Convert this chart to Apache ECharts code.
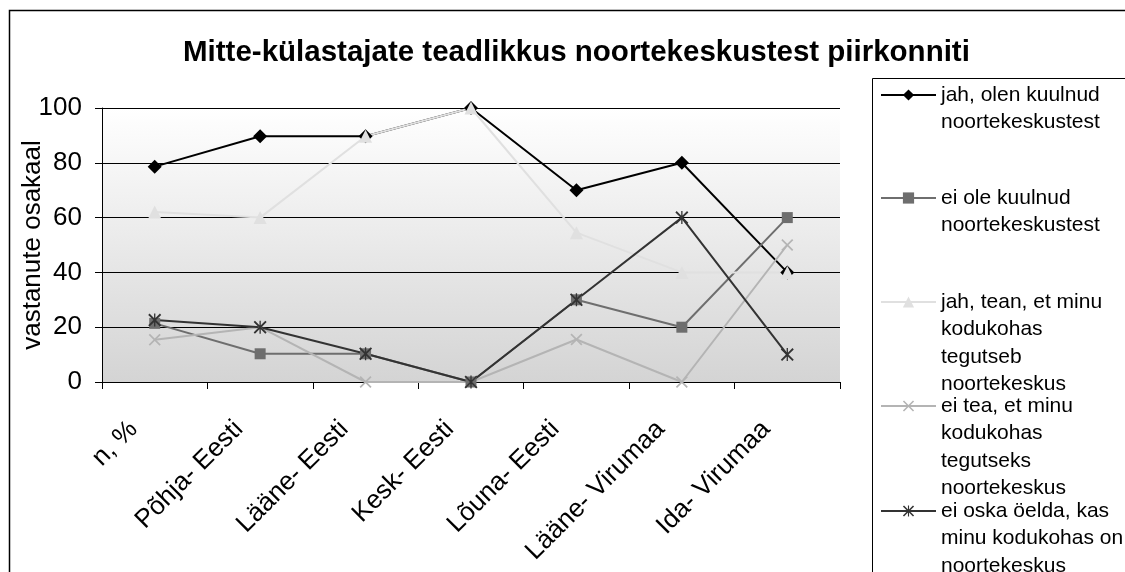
<!DOCTYPE html>
<html>
<head>
<meta charset="utf-8">
<script src="https://cdn.jsdelivr.net/npm/echarts@6/dist/echarts.min.js"></script>
<style>
  html, body { margin: 0; padding: 0; background: #fff; }
  #chart { width: 1125px; height: 572px; }
</style>
</head>
<body>
<div id="chart"></div>
<script>
// andmed
const categories = ['n, %', 'Põhja- Eesti', 'Lääne- Eesti', 'Kesk- Eesti', 'Lõuna- Eesti', 'Lääne- Virumaa', 'Ida- Virumaa'];
const heardYes = [78.6, 89.7, 89.7, 100, 70, 80, 40];
const heardNo = [21.4, 10.3, 10.3, 0, 30, 20, 60];
const knowYes = [62, 60, 89.7, 100, 54.5, 40, 40];
const knowNo = [15.4, 20, 0, 0, 15.5, 0, 50];
const cantSay = [22.6, 20, 10.3, 0, 30, 60, 10];
const yTicks = [0, 20, 40, 60, 80, 100];

const seriesNames = [
    'jah, olen kuulnud noortekeskustest',
    'ei ole kuulnud noortekeskustest',
    'jah, tean, et minu kodukohas tegutseb noortekeskus',
    'ei tea, et minu kodukohas tegutseks noortekeskus',
    'ei oska öelda, kas minu kodukohas on noortekeskus'
];
const legendLines = [
    ['jah, olen kuulnud', 'noortekeskustest'],
    ['ei ole kuulnud', 'noortekeskustest'],
    ['jah, tean, et minu', 'kodukohas', 'tegutseb', 'noortekeskus'],
    ['ei tea, et minu', 'kodukohas', 'tegutseks', 'noortekeskus'],
    ['ei oska öelda, kas', 'minu kodukohas on', 'noortekeskus']
];

const font = '"Liberation Sans", Arial, sans-serif';
const crossPath = 'path://M2,0L10,8L18,0L20,2L12,10L20,18L18,20L10,12L2,20L0,18L8,10L0,2Z';
const starPath = crossPath + 'M9,0L11,0L11,20L9,20Z';

const chart = echarts.init(document.getElementById('chart'));

function line(name, data, color, symbol, size) {
    return {
        name: name,
        type: 'line',
        data: data,
        symbol: symbol,
        symbolSize: size,
        showAllSymbol: true,
        lineStyle: { color: color, width: 2 },
        itemStyle: { color: color },
        emphasis: { disabled: true },
        animation: false
    }
}

// legend: üks komponent iga kirje kohta, marker esimese rea kõrgusel
const legendY = [95, 198, 302, 406, 511];
const lh = 27.5;
const legends = seriesNames.map(function (name, i) {
    const n = legendLines[i].length;
    return {
        data: [name],
        orient: 'vertical',
        left: 880,
        top: legendY[i] - (2 * n - 1) * lh / 2,
        padding: 0,
        itemWidth: 55,
        itemHeight: 14,
        selectedMode: false,
        formatter: function () {
            return '\n'.repeat(n - 1) + legendLines[i].join('\n')
        },
        textStyle: { fontSize: 21, lineHeight: lh, fontFamily: font, color: '#000' }
    }
});

const option = {
    backgroundColor: '#fff',
    animation: false,
    title: {
        text: 'Mitte-külastajate teadlikkus noortekeskustest piirkonniti',
        left: 178,
        top: 33,
        textStyle: { fontSize: 29.5, fontWeight: 'bold', fontFamily: font, color: '#000' }
    },
    graphic: [
        {
            type: 'rect', z: 0, silent: true,
            shape: { x: 9.5, y: 10.5, width: 1200, height: 700 },
            style: { fill: 'none', stroke: '#000', lineWidth: 1.5 }
        },
        {
            type: 'rect', z: 0, silent: true,
            shape: { x: 872.5, y: 78.5, width: 400, height: 700 },
            style: { fill: '#fff', stroke: '#000', lineWidth: 1 }
        }
    ],
    legend: legends,
    grid: {
        left: 102, right: 285, top: 108, bottom: 190,
        outerBoundsMode: 'none',
        containLabel: false,
        show: true,
        borderWidth: 0,
        backgroundColor: new echarts.graphic.LinearGradient(0, 0, 0, 1, [
            { offset: 0, color: '#ffffff' },
            { offset: 1, color: '#d4d4d4' }
        ])
    },
    xAxis: {
        type: 'category',
        data: categories,
        boundaryGap: true,
        axisLine: { lineStyle: { color: '#000', width: 1 } },
        axisTick: { show: true, length: 7, interval: 0, lineStyle: { color: '#000' } },
        axisLabel: {
            interval: 0, rotate: 45, margin: 22,
            padding: [0, 30, 0, 0],
            fontSize: 26, fontFamily: font, color: '#000'
        },
        splitLine: { show: false }
    },
    yAxis: {
        type: 'value',
        min: yTicks[0],
        max: yTicks[yTicks.length - 1],
        interval: 20,
        name: 'vastanute osakaal',
        nameLocation: 'middle',
        nameGap: 56,
        nameMoveOverlap: false,
        nameTextStyle: { fontSize: 26, fontFamily: font, color: '#000' },
        axisLine: { show: true, lineStyle: { color: '#000', width: 1 } },
        axisTick: { show: true, length: 7, lineStyle: { color: '#000' } },
        axisLabel: { fontSize: 26, fontFamily: font, color: '#000', margin: 20 },
        splitLine: { show: true, lineStyle: { color: '#000', width: 1 } }
    },
    series: [
        line(seriesNames[0], heardYes, '#000000', 'diamond', 14),
        line(seriesNames[1], heardNo, '#6e6e6e', 'rect', 11),
        line(seriesNames[2], knowYes, '#e0e0e0', 'triangle', 13),
        line(seriesNames[3], knowNo, '#b4b4b4', crossPath, 12),
        line(seriesNames[4], cantSay, '#333333', starPath, 13)
    ]
};
chart.setOption(option);
</script>
</body>
</html>
